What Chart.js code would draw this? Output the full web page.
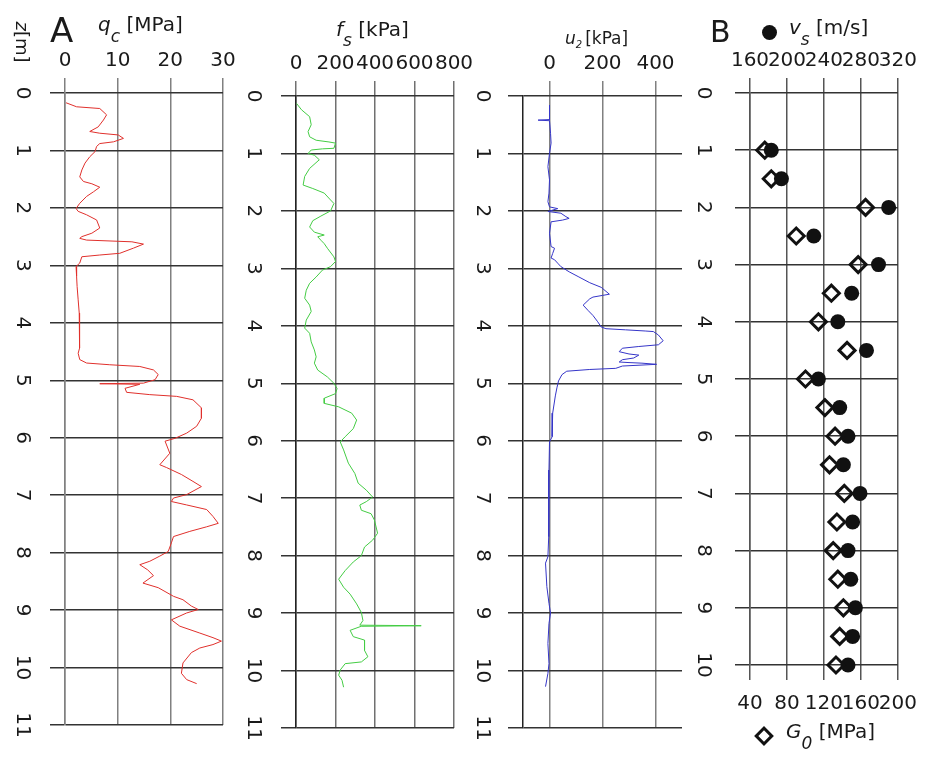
<!DOCTYPE html>
<html>
<head>
<meta charset="utf-8">
<script src="https://cdn.jsdelivr.net/npm/chart.js@4.4.1/dist/chart.umd.min.js"></script>
<style>
body { margin: 0; background: #fff; }
#wrap { position: relative; width: 929px; height: 757px; overflow: hidden; font-family: "DejaVu Sans", sans-serif; color: #1a1a1a; }
canvas { position: absolute; top: 0; }
.t { position: absolute; line-height: 1; white-space: nowrap; }
.t i { font-style: italic; }
.t .sb { position: relative; font-style: italic; }
.rot { transform: translate(-50%, -50%) rotate(90deg); }
</style>
</head>
<body>
<div id="wrap">
  <canvas id="log-qc" width="250" height="745" style="left:0"></canvas>
  <canvas id="log-fs" width="250" height="745" style="left:240px"></canvas>
  <canvas id="log-u2" width="230" height="745" style="left:470px"></canvas>
  <canvas id="log-vs" width="239" height="757" style="left:690px"></canvas>

  <div class="t" style="left:50px;top:13px;font-size:34px">A</div>
  <div class="t rot" style="left:22px;top:42px;font-size:18px"><i>z</i>[m]</div>
  <div class="t" style="left:98px;top:14px;font-size:20px"><i>q</i><span class="sb" style="top:11px;font-size:17px">c</span> [MPa]</div>
  <div class="t" style="left:336px;top:19px;font-size:20px"><i>f</i><span class="sb" style="top:10px;font-size:17px">s</span> [kPa]</div>
  <div class="t" style="left:565px;top:30px;font-size:17px"><i>u</i><span class="sb" style="top:4px;font-size:10px">2</span><span style="margin-left:3px">[kPa]</span></div>
  <div class="t" style="left:710px;top:17px;font-size:30px">B</div>
  <div style="position:absolute;left:762px;top:25px;width:15px;height:15px;border-radius:50%;background:#111"></div>
  <div class="t" style="left:789px;top:17px;font-size:20px"><i>v</i><span class="sb" style="top:11px;font-size:17px">s</span> [m/s]</div>
  <div style="position:absolute;left:757px;top:729px;width:8px;height:8px;border:3px solid #111;transform:rotate(45deg)"></div>
  <div class="t" style="left:786px;top:721px;font-size:20px"><i>G</i><span class="sb" style="top:11px;font-size:17px">0</span> [MPa]</div>
</div>

<script>
// profondeurs des graduations
const depthTicks = [0, 1, 2, 3, 4, 5, 6, 7, 8, 9, 10, 11];

// q_c [MPa]
const qcTicks = [0, 10, 20, 30];
const qcDepth = [
  0.17, 0.24, 0.27, 0.38, 0.47, 0.59, 0.67, 0.70, 0.73, 0.79,
  0.85, 0.88, 0.93, 1.02, 1.11, 1.22, 1.34, 1.46, 1.54, 1.58,
  1.64, 1.72, 1.80, 1.92, 2.01, 2.06, 2.12, 2.21, 2.35, 2.44,
  2.50, 2.53, 2.56, 2.59, 2.63, 2.70, 2.79, 2.82, 2.85, 2.96,
  3.02, 3.19, 3.37, 3.60, 3.83, 4.12, 4.35, 4.44, 4.53, 4.64,
  4.70, 4.73, 4.76, 4.82, 4.90, 4.99, 5.05, 5.06, 5.07, 5.14,
  5.21, 5.25, 5.28, 5.34, 5.48, 5.66, 5.80, 5.92, 6.01, 6.06,
  6.27, 6.47, 6.52, 6.64, 6.76, 6.85, 6.99, 7.05, 7.11, 7.17,
  7.25, 7.37, 7.49, 7.55, 7.63, 7.72, 7.83, 7.98, 8.06, 8.15,
  8.21, 8.30, 8.40, 8.53, 8.61, 8.76, 8.82, 8.93, 8.99, 9.05,
  9.17, 9.28, 9.40, 9.48, 9.54, 9.60, 9.66, 9.74, 9.92, 10.10,
  10.21, 10.28
];
const qcValue = [
  0.2, 2.2, 6.6, 7.9, 7.3, 6.3, 4.7, 6.6, 10.1, 11.1,
  9.2, 6.6, 6.0, 5.7, 4.7, 3.8, 3.2, 2.8, 3.5, 5.1,
  6.6, 5.4, 4.1, 2.8, 2.1, 2.5, 4.1, 6.0, 6.6, 5.1,
  3.2, 2.8, 4.1, 12.7, 14.9, 13.0, 10.4, 6.6, 3.2, 2.8,
  2.1, 2.2, 2.3, 2.5, 2.7, 2.8, 2.7, 2.8, 2.5, 2.8,
  4.1, 8.5, 14.2, 16.8, 17.7, 17.1, 14.9, 6.6, 14.2, 11.4,
  11.7, 16.1, 21.2, 24.3, 25.9, 25.9, 25.0, 23.1, 20.9, 19.0,
  19.9, 18.0, 19.3, 22.1, 24.3, 25.9, 23.1, 20.6, 20.2, 23.1,
  26.9, 28.1, 29.1, 26.9, 23.7, 20.6, 20.2, 19.6, 18.0, 16.1,
  14.2, 15.7, 16.8, 14.8, 17.7, 20.6, 22.4, 24.0, 25.3, 23.1,
  20.2, 21.8, 25.6, 28.1, 29.7, 28.1, 25.6, 24.0, 22.4, 22.1,
  23.1, 25.0
];

// f_s [kPa]
const fsTicks = [0, 200, 400, 600, 800];
const fsDepth = [
  0.13, 0.24, 0.36, 0.50, 0.62, 0.71, 0.77, 0.80, 0.82, 0.91,
  0.92, 0.94, 1.00, 1.03, 1.11, 1.26, 1.40, 1.55, 1.61, 1.69,
  1.81, 1.87, 2.00, 2.09, 2.17, 2.28, 2.37, 2.42, 2.45, 2.51,
  2.57, 2.65, 2.80, 2.88, 2.97, 3.03, 3.15, 3.26, 3.38, 3.52,
  3.64, 3.75, 3.90, 4.04, 4.13, 4.28, 4.42, 4.54, 4.65, 4.77,
  4.89, 5.00, 5.09, 5.18, 5.26, 5.35, 5.41, 5.52, 5.64, 5.79,
  5.93, 6.02, 6.16, 6.39, 6.57, 6.74, 6.86, 6.98, 7.06, 7.12,
  7.21, 7.27, 7.38, 7.61, 7.73, 7.85, 8.00, 8.11, 8.26, 8.41,
  8.55, 8.67, 8.84, 8.99, 9.13, 9.21, 9.22, 9.23, 9.30, 9.41,
  9.47, 9.65, 9.76, 9.85, 9.88, 9.99, 10.08, 10.17, 10.29
];
const fsValue = [
  3, 28, 69, 77, 61, 69, 102, 167, 200, 192,
  134, 77, 61, 93, 118, 69, 44, 36, 85, 143,
  175, 192, 175, 126, 85, 69, 93, 143, 110, 126,
  143, 159, 192, 200, 175, 134, 102, 69, 52, 44,
  69, 77, 52, 44, 69, 77, 93, 102, 93, 110,
  159, 192, 208, 200, 143, 143, 216, 282, 307, 290,
  249, 224, 241, 265, 298, 315, 356, 388, 356, 323,
  331, 380, 397, 413, 388, 347, 331, 290, 249, 216,
  241, 274, 307, 331, 339, 323, 634, 330, 274, 290,
  347, 347, 364, 331, 249, 224, 216, 233, 241
];

// u_2 [kPa]
const u2Ticks = [0, 200, 400];
const u2Depth = [
  0.16, 0.36, 0.41, 0.42, 0.43, 0.65, 0.82, 1.00, 1.23, 1.46,
  1.69, 1.84, 1.93, 1.96, 2.01, 2.04, 2.10, 2.13, 2.16, 2.19,
  2.39, 2.62, 2.65, 2.74, 2.82, 2.85, 2.91, 2.97, 3.06, 3.15,
  3.25, 3.33, 3.45, 3.47, 3.50, 3.53, 3.64, 3.73, 3.82, 3.93,
  4.02, 4.05, 4.07, 4.09, 4.10, 4.16, 4.26, 4.33, 4.36, 4.39,
  4.45, 4.49, 4.51, 4.56, 4.59, 4.63, 4.64, 4.65, 4.67, 4.70,
  4.74, 4.76, 4.79, 4.85, 4.96, 5.08, 5.22, 5.52, 5.93, 6.02,
  6.51, 7.09, 7.67, 8.02, 8.13, 8.54, 8.83, 9.00, 9.18, 9.53,
  9.88, 10.05, 10.28
];
const u2Value = [
  0, 0, 0, -43, 0, 4, 6, 0, -6, 0,
  -2, -6, 0, 31, -6, 43, 62, 74, 49, 6,
  0, 6, 19, 12, 6, 19, 31, 43, 74, 111,
  152, 195, 226, 201, 164, 152, 127, 145, 164, 182,
  195, 213, 287, 361, 392, 411, 429, 411, 337, 275,
  263, 300, 337, 318, 275, 263, 300, 349, 404, 275,
  250, 152, 65, 47, 34, 28, 22, 12, 10, 0,
  -2, -4, -2, -6, -15, -10, -2, 4, -2, -6,
  -2, -6, -15
];

// B : v_s [m/s] et G_0 [MPa]
const vsTicks = [160, 200, 240, 280, 320];
const g0Ticks = [40, 80, 120, 160, 200];
const seisDepth = [1.0, 1.5, 2.0, 2.5, 3.0, 3.5, 4.0, 4.5, 5.0, 5.5, 6.0, 6.5, 7.0, 7.5, 8.0, 8.5, 9.0, 9.5, 10.0];
const vsValue = [183, 194, 310, 229, 299, 270, 255, 286, 234, 257, 266, 261, 279, 271, 266, 269, 274, 271, 266];
const g0Value = [56, 63, 165, 90, 157, 128, 114, 145, 100, 121, 132, 126, 142, 134, 130, 135, 141, 137, 133];

function toPoints(depths, values) {
    return depths.map((d, i) => ({ x: values[i], y: d }));
}

// étiquettes de profondeur tournées
const depthLabels = {
    id: 'depthLabels',
    afterDraw(chart, args, opts) {
        const ctx = chart.ctx;
        const y = chart.scales.y;
        ctx.save();
        ctx.font = '20px "DejaVu Sans"';
        ctx.fillStyle = '#1a1a1a';
        ctx.textAlign = 'center';
        ctx.textBaseline = 'middle';
        y.ticks.forEach(t => {
            ctx.save();
            ctx.translate(opts.x, y.getPixelForValue(t.value));
            ctx.rotate(Math.PI / 2);
            ctx.fillText(String(t.value), 0, 0);
            ctx.restore();
        });
        ctx.restore();
    }
};

function setTicks(list) {
    return scale => { scale.ticks = list.map(v => ({ value: v })); };
}

function xAxis(min, max, list, height, color) {
    return {
        type: 'linear',
        position: 'top',
        min: min,
        max: max,
        afterBuildTicks: setTicks(list),
        afterFit: s => { s.height = height; },
        ticks: { font: { size: 20 }, color: '#1a1a1a', padding: 5, autoSkip: false, maxRotation: 0 },
        grid: { color: color, lineWidth: 1.5, tickLength: 15 },
        border: { display: false }
    };
}

function yAxis(max, width, borderColor) {
    return {
        type: 'linear',
        reverse: true,
        min: 0,
        max: max,
        afterBuildTicks: setTicks(depthTicks.filter(v => v <= max)),
        afterFit: s => { s.width = width; },
        ticks: { display: false },
        grid: { color: '#333', lineWidth: 1.5, tickLength: 15 },
        border: { color: borderColor, width: 1.5 }
    };
}

function createLog(canvasId, datasets, scales, padding, labelX) {
    const canvas = document.getElementById(canvasId);
    if (!canvas) return;
    return new Chart(canvas, {
        type: 'scatter',
        data: { datasets: datasets },
        options: {
            responsive: false,
            animation: false,
            events: [],
            layout: { padding: padding },
            plugins: {
                legend: { display: false },
                tooltip: { enabled: false },
                depthLabels: { x: labelX }
            },
            scales: scales
        },
        plugins: [depthLabels]
    });
}

function trace(depths, values, color) {
    return {
        data: toPoints(depths, values),
        showLine: true,
        pointRadius: 0,
        borderColor: color,
        borderWidth: 1
    };
}

Chart.defaults.font.family = '"DejaVu Sans", sans-serif';

createLog('log-qc',
    [trace(qcDepth, qcValue, '#e0302c')],
    { x: xAxis(0, 30, qcTicks, 93, '#808080'), y: yAxis(11, 65, '#808080') },
    { left: 0, right: 27, top: 0, bottom: 20 }, 22);

createLog('log-fs',
    [trace(fsDepth, fsValue, '#44cc44')],
    { x: xAxis(0, 800, fsTicks, 96, '#707070'), y: yAxis(11, 56, '#222') },
    { left: 0, right: 36, top: 0, bottom: 17 }, 13);

createLog('log-u2',
    [trace(u2Depth, u2Value, '#3535c8')],
    { x: xAxis(-100, 500, u2Ticks, 96, '#808080'), y: yAxis(11, 53, '#222') },
    { left: 0, right: 18, top: 0, bottom: 17 }, 12);

const g0Axis = xAxis(40, 200, g0Ticks, 50, '#555');
g0Axis.position = 'bottom';
g0Axis.ticks.padding = 12;
g0Axis.grid.drawOnChartArea = false;

createLog('log-vs',
    [
        {
            data: toPoints(seisDepth, g0Value),
            xAxisID: 'x2',
            pointStyle: 'rectRot',
            pointRadius: 8,
            borderWidth: 3,
            borderColor: '#111',
            backgroundColor: 'rgba(0,0,0,0)',
            clip: false
        },
        {
            data: toPoints(seisDepth, vsValue),
            xAxisID: 'x',
            pointStyle: 'circle',
            pointRadius: 7.5,
            borderWidth: 0,
            backgroundColor: '#111',
            clip: false
        }
    ],
    { x: xAxis(160, 320, vsTicks, 93, '#555'), x2: g0Axis, y: yAxis(10, 60, '#555') },
    { left: 0, right: 20, top: 0, bottom: 42 }, 13);
</script>
</body>
</html>
